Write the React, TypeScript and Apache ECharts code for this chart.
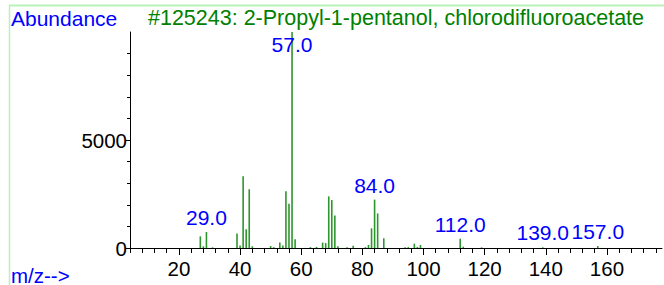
import React, { useEffect, useRef } from "react";
import * as echarts from "echarts";

const mzValues = [27, 28, 29, 31, 39, 40, 41, 42, 43, 44, 50, 51, 53, 54, 55, 56, 57, 58, 63, 65, 67, 68, 69, 70, 71, 72, 75, 77, 81, 82, 83, 84, 85, 87, 94, 95, 97, 98, 99, 112, 113, 119, 139, 157];
const abundances = [540, 80, 740, 30, 670, 110, 3320, 865, 2720, 80, 90, 40, 260, 120, 2625, 2050, 10000, 400, 40, 50, 250, 230, 2390, 2220, 1500, 80, 40, 100, 40, 140, 910, 2240, 1600, 450, 40, 40, 200, 50, 140, 430, 60, 30, 30, 90];
const labeledPeaks = [29, 57, 84, 112, 139, 157];
const xMajorTicks = [20, 40, 60, 80, 100, 120, 140, 160];
const xMinorTicks = [4, 8, 12, 16, 24, 28, 32, 36, 44, 48, 52, 56, 64, 68, 72, 76, 84, 88, 92, 96, 104, 108, 112, 116, 124, 128, 132, 136, 144, 148, 152, 156, 164, 168, 172, 176];
const yMajorTicks = [0, 5000];
const yMinorTicks = [1000, 2000, 3000, 4000, 6000, 7000, 8000, 9000];
const titleText = "#125243: 2-Propyl-1-pentanol, chlorodifluoroacetate";
const yName = "Abundance";
const xName = "m/z-->";

const FONT = "Liberation Sans, Arial, sans-serif";

export default function App() {
  const ref = useRef<HTMLDivElement>(null);
  useEffect(() => {
    if (!ref.current) return;
    const chart = echarts.init(ref.current, null, { renderer: "svg" });
    const data = mzValues.map((mz, i) => {
      const item: any = { value: [mz, abundances[i]] };
      if (labeledPeaks.includes(mz)) {
        item.label = {
          show: true,
          formatter: mz.toFixed(1),
          position: mz === 57 ? "insideTop" : "top",
          distance: mz === 57 ? 2 : 4,
        };
      }
      return item;
    });
    const xBase = {
      type: "value",
      min: 4,
      max: 178,
      position: "bottom",
      splitLine: { show: false },
    };
    const yBase = {
      type: "value",
      min: 0,
      max: 10000,
      position: "left",
      splitLine: { show: false },
    };
    chart.setOption({
      animation: false,
      grid: { left: 130, right: 2, top: 32, bottom: 37, containLabel: false },
      xAxis: [
        {
          ...xBase,
          axisLine: { show: true, onZero: false, lineStyle: { color: "#000", width: 1 } },
          axisTick: { show: true, customValues: xMajorTicks, length: 7, lineStyle: { color: "#000" } },
          axisLabel: { customValues: xMajorTicks, color: "#000", fontSize: 20.5, fontFamily: FONT, margin: 10, formatter: (v: number) => String(v) },
        },
        {
          ...xBase,
          axisLine: { show: false },
          axisTick: { show: true, customValues: xMinorTicks, length: 5, lineStyle: { color: "#000" } },
          axisLabel: { show: false },
        },
      ],
      yAxis: [
        {
          ...yBase,
          axisLine: { show: true, onZero: false, lineStyle: { color: "#000", width: 1 } },
          axisTick: { show: true, customValues: yMajorTicks, length: 5, lineStyle: { color: "#000" } },
          axisLabel: { customValues: yMajorTicks, color: "#000", fontSize: 20.5, fontFamily: FONT, margin: 3, formatter: (v: number) => String(v) },
        },
        {
          ...yBase,
          axisLine: { show: false },
          axisTick: { show: true, customValues: yMinorTicks, length: 3, lineStyle: { color: "#000" } },
          axisLabel: { show: false },
        },
      ],
      graphic: [
        { type: "line", shape: { x1: 9, y1: 5.5, x2: 664, y2: 5.5 }, style: { stroke: "#b8f2b8", lineWidth: 2 } },
        { type: "line", shape: { x1: 9.5, y1: 5, x2: 9.5, y2: 285 }, style: { stroke: "#b8f2b8", lineWidth: 1.5 } },
        { type: "text", x: 11, y: 18, style: { text: yName, fill: "#0000ff", font: `21px ${FONT}`, verticalAlign: "middle" } },
        { type: "text", x: 148, y: 18, style: { text: titleText, fill: "#008000", font: `21.5px ${FONT}`, verticalAlign: "middle" } },
        { type: "text", x: 11, y: 275, style: { text: xName, fill: "#0000ff", font: `20.5px ${FONT}`, verticalAlign: "middle" } },
      ],
      series: [
        {
          type: "bar",
          xAxisIndex: 0,
          yAxisIndex: 0,
          barWidth: 1.6,
          itemStyle: { color: "#2e962e" },
          label: { show: false, color: "#0000ff", fontSize: 21, fontFamily: FONT },
          data,
        },
      ],
    });
    return () => chart.dispose();
  }, []);
  return <div ref={ref} style={{ position: "fixed", left: 0, top: 0, width: 664, height: 285, background: "#fff" }} />;
}
